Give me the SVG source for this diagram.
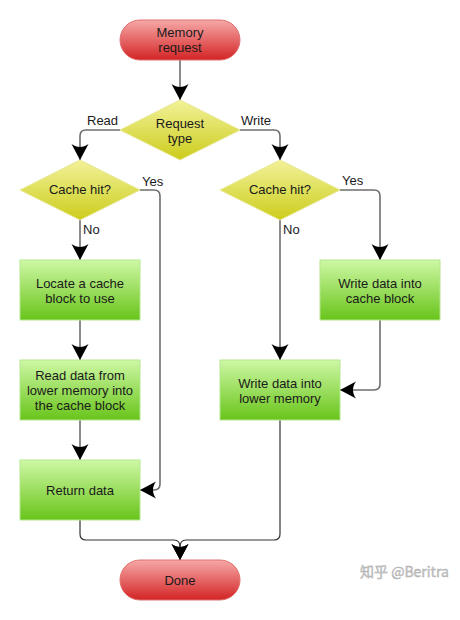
<svg xmlns="http://www.w3.org/2000/svg" width="460" height="620" viewBox="0 0 460 620">
<style>
text{font-family:"Liberation Sans",Arial,sans-serif;font-size:13px;fill:#1a1a1a;text-anchor:middle}
.lbl{text-anchor:start}
.term{fill:url(#gRed);stroke:#e07070;stroke-width:1}
.dec{fill:url(#gYel);stroke:#e8e890;stroke-width:1}
.proc{fill:url(#gGrn);stroke:#b4e890;stroke-width:1}
.c{fill:none;stroke:#6e6e6e;stroke-width:1.6;marker-end:url(#arr)}
.c2{fill:none;stroke:#333;stroke-width:1.2;marker-end:url(#arr)}
.wm{font-family:"Noto Sans CJK SC","Liberation Sans",sans-serif;font-size:14px;fill:#c8c8c8;stroke:#aaa;stroke-width:0.4;text-anchor:start}
</style>
<defs>
<linearGradient id="gRed" x1="0" y1="0" x2="0" y2="1"><stop offset="0" stop-color="#f6a8a8"/><stop offset="1" stop-color="#d42424"/></linearGradient>
<linearGradient id="gYel" x1="0" y1="0" x2="0" y2="1"><stop offset="0" stop-color="#f2f29a"/><stop offset="1" stop-color="#cccc1c"/></linearGradient>
<linearGradient id="gGrn" x1="0" y1="0" x2="0" y2="1"><stop offset="0" stop-color="#cef8a4"/><stop offset="1" stop-color="#68c41a"/></linearGradient>
<marker id="arr" viewBox="-17 -10 18 20" markerWidth="18" markerHeight="20" refX="0" refY="0" orient="auto" markerUnits="userSpaceOnUse"><path d="M0,0 L-16,-8.5 C-12,-3 -12,3 -16,8.5 Z" fill="#000"/></marker>
</defs>
<g id="connectors">
<path class="c" d="M180,60 V100"/>
<path class="c" d="M120,130 H86 Q80,130 80,136 V160"/>
<path class="c" d="M240,130 H274 Q280,130 280,136 V160"/>
<path class="c" d="M140,190 H154 Q160,190 160,196 V484 Q160,490 154,490 H140"/>
<path class="c" d="M80,220 V260"/>
<path class="c" d="M80,320 V360"/>
<path class="c" d="M80,420 V460"/>
<path class="c" d="M340,190 H374 Q380,190 380,196 V260"/>
<path class="c" d="M280,220 V360"/>
<path class="c" d="M380,320 V384 Q380,390 374,390 H340"/>
<path class="c2" d="M80,520 V534 Q80,540 86,540 H174 Q180,540 180,547 V560"/>
<path class="c2" d="M280,420 V534 Q280,540 274,540 H186 Q180,540 180,547 V560"/>
<text class="lbl" x="87" y="125">Read</text>
<text class="lbl" x="241" y="125">Write</text>
<text class="lbl" x="142" y="186">Yes</text>
<text class="lbl" x="83" y="234">No</text>
<text class="lbl" x="342" y="185">Yes</text>
<text class="lbl" x="283" y="234">No</text>
</g>
<g id="start"><rect class="term" x="120" y="20" width="120" height="40" rx="20"/><text x="180" y="37">Memory</text><text x="180" y="52">request</text></g>
<g id="reqtype"><polygon class="dec" points="180,100 240,130 180,160 120,130"/><text x="180" y="128">Request</text><text x="180" y="143">type</text></g>
<g id="hitL"><polygon class="dec" points="80,160 140,190 80,220 20,190"/><text x="80" y="194">Cache hit?</text></g>
<g id="hitR"><polygon class="dec" points="280,160 340,190 280,220 220,190"/><text x="280" y="194">Cache hit?</text></g>
<g id="locate"><rect class="proc" x="20" y="260" width="120" height="60"/><text x="80" y="288">Locate a cache</text><text x="80" y="303">block to use</text></g>
<g id="readlow"><rect class="proc" x="20" y="360" width="120" height="60"/><text x="80" y="380">Read data from</text><text x="80" y="395">lower memory into</text><text x="80" y="410">the cache block</text></g>
<g id="ret"><rect class="proc" x="20" y="460" width="120" height="60"/><text x="80" y="495">Return data</text></g>
<g id="wcache"><rect class="proc" x="320" y="260" width="120" height="60"/><text x="380" y="288">Write data into</text><text x="380" y="303">cache block</text></g>
<g id="wlow"><rect class="proc" x="220" y="360" width="120" height="60"/><text x="280" y="388">Write data into</text><text x="280" y="403">lower memory</text></g>
<g id="done"><rect class="term" x="120" y="560" width="120" height="40" rx="20"/><text x="180" y="585">Done</text></g>
<text class="wm" x="360" y="577">知乎 @Beritra</text>
</svg>
